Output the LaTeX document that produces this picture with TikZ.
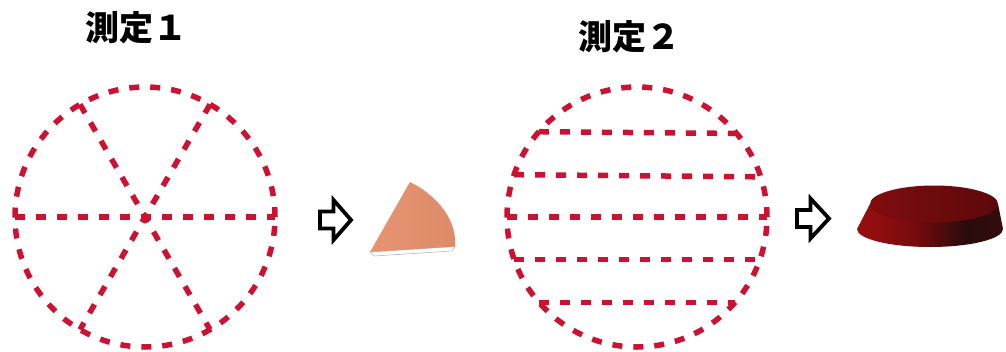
\documentclass[tikz,border=0pt]{standalone}
\usepackage{fontspec}
\newfontfamily\cjk{Noto Sans CJK JP}
\usetikzlibrary{shapes.geometric}
\definecolor{cutred}{RGB}{204,18,48}
\definecolor{wedgeorange}{RGB}{222,138,104}
\definecolor{wedgelight}{RGB}{229,148,115}
\definecolor{diskred}{RGB}{148,14,16}
\definecolor{diskdark}{RGB}{42,12,12}
\definecolor{disktop}{RGB}{120,12,14}
\pgfdeclarehorizontalshading{diskside}{100bp}{%
  color(0bp)=(diskred); color(30bp)=(diskred); color(45bp)=(diskred!80!black);
  color(62bp)=(diskdark); color(85bp)=(diskdark!85!diskred); color(100bp)=(diskred!70!black)}
\pgfdeclarehorizontalshading{disktopshade}{100bp}{%
  color(0bp)=(diskred); color(35bp)=(disktop); color(70bp)=(disktop!80!black); color(100bp)=(disktop!60!black)}
\tikzset{
  cutline/.style={draw=cutred, line width=5.5pt, dash pattern=on 10pt off 11pt},
  disc/.style={circle, cutline, minimum size=260pt, inner sep=0pt, outer sep=0pt},
  title/.style={font=\cjk\bfseries\fontsize{34}{40}\selectfont, inner sep=0pt},
  blockarrow/.style={draw=black, fill=white, line width=3.8pt, line join=miter, miter limit=10},
}
\begin{document}
\begin{tikzpicture}[x=1pt, y=-1pt]
  \useasboundingbox (0,0) rectangle (1006,351);

  % titles
  \node[title] (t1) at (136,28) {測定１};
  \node[title] (t2) at (629,37) {測定２};

  % cutting plan 1: three diameters at 60 degrees
  \node[disc] (c1) at (145,217) {};
  \draw[cutline] (c1.180) -- (c1.0);
  \draw[cutline] (c1.120) -- (c1.300);
  \draw[cutline] (c1.60) -- (c1.240);

  % cutting plan 2: five parallel chords
  \node[disc] (c2) at (637,217) {};
  \draw[cutline] (c2.139.2) -- (c2.40.8);
  \draw[cutline] (c2.161.2) -- (c2.18.8);
  \draw[cutline] (c2.180) -- (c2.0);
  \draw[cutline] (c2.199.3) -- (c2.-19.3);
  \draw[cutline] (c2.221.4) -- (c2.-41.4);

  % open block arrows
  \draw[blockarrow] (320,211.5) -- (333.5,211.5) -- (333.5,200) -- (351,220)
    -- (333.5,240) -- (333.5,228.5) -- (320,228.5) -- cycle;
  \draw[blockarrow] (797,210) -- (810.5,210) -- (810.5,198.5) -- (829,218.5)
    -- (810.5,238.5) -- (810.5,227) -- (797,227) -- cycle;

  % sector-shaped sample
  \fill[white, draw=gray!55, line width=0.6pt]
    (370,252) -- (455,246.5) -- (452,251) -- (374,256) -- cycle;
  \shade[left color=wedgelight, right color=wedgeorange]
    (370,252) -- (410,182) .. controls (440,197) and (457,222) .. (455,246.5) -- cycle;

  % disc-shaped sample
  \shade[shading=diskside]
    (857,229) -- (870,204) -- (998,204) -- (1003,229)
    arc[start angle=0, end angle=180, x radius=73, y radius=18] -- cycle;
  \shade[shading=disktopshade]
    (934,204) ellipse[x radius=64, y radius=18.5];
\end{tikzpicture}
\end{document}
